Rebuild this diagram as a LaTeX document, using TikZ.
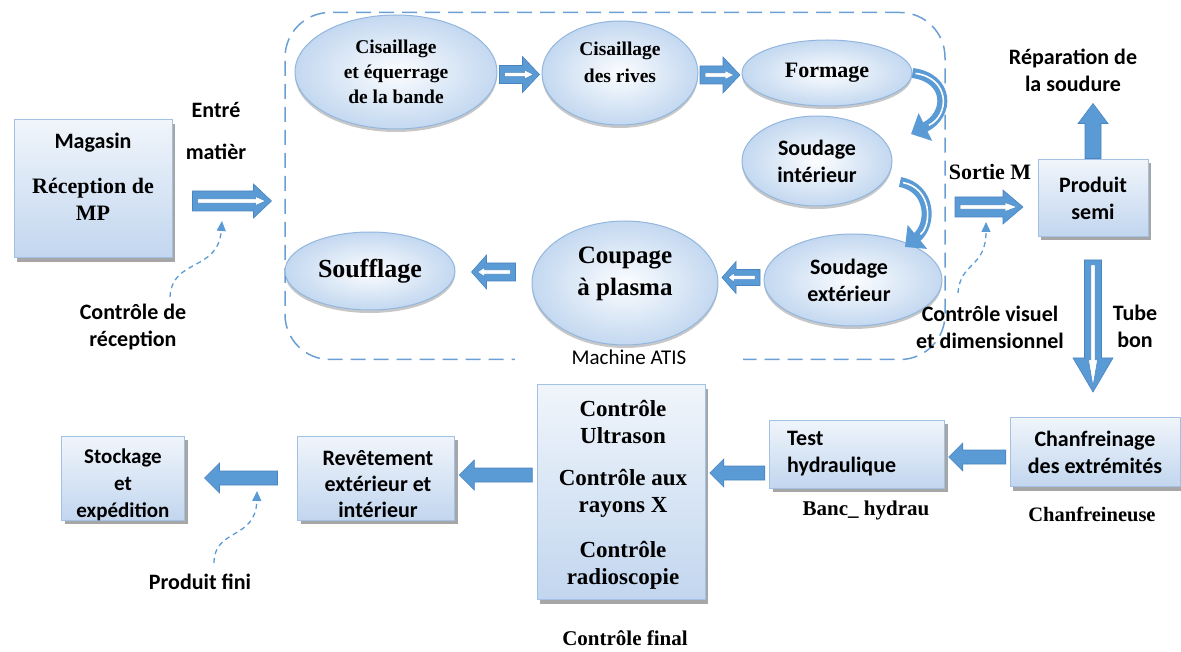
\documentclass[tikz,border=0pt]{standalone}
\usepackage{fontspec}
\setmainfont{Liberation Serif}
\newfontfamily\sansf{Carlito}
\usetikzlibrary{shapes.geometric,shadows,arrows.meta,calc}

\definecolor{arrowblue}{HTML}{5B9BD5}
\definecolor{arrowedge}{HTML}{4A84C0}
\definecolor{boxedge}{HTML}{A3C1E4}
\definecolor{boxtop}{HTML}{F0F5FB}
\definecolor{boxbot}{HTML}{C2D6EF}
\definecolor{elledge}{HTML}{93B6DF}
\definecolor{ellout}{HTML}{C3D8F0}
\definecolor{ellin}{HTML}{FCFDFF}
\definecolor{framecol}{HTML}{6A9FD6}

\tikzset{
  frame/.style={draw=framecol, line width=1.5pt, dash pattern=on 15pt off 8pt,
    rounded corners=45pt},
  box/.style={draw=boxedge, line width=1pt, top color=boxtop, bottom color=boxbot,
    drop shadow={shadow xshift=3pt, shadow yshift=-4pt, fill=black, opacity=0.35}},
  ell/.style={ellipse, draw=elledge, line width=1pt, inner color=ellin, outer color=ellout,
    inner sep=0pt, drop shadow={shadow xshift=0pt, shadow yshift=-3pt, fill=black, opacity=0.22}},
  sanst/.style={font=\sansf\bfseries\fontsize{22}{27}\selectfont, align=center, inner sep=0pt},
  serift/.style={font=\bfseries\fontsize{22}{27}\selectfont, align=center, inner sep=0pt},
  curvearrow/.style={draw=arrowblue, line width=10pt, -{Triangle[width=30pt,length=16pt]}},
  curveinner/.style={draw=white, line width=1.6pt, shorten >=20pt, shorten <=3pt},
  ctrl/.style={draw=arrowblue, line width=1.3pt, dash pattern=on 5pt off 4pt,
    -{Triangle[width=9pt,length=10pt]}},
  pics/hollowarrow/.style n args={4}{code={
    \filldraw[fill=arrowblue, draw=arrowedge, line width=0.6pt]
      ({-(#1)/2},{-(#2)}) -- ({(#1)/2-(#4)},{-(#2)}) -- ({(#1)/2-(#4)},{-(#3)}) --
      ({(#1)/2},0) -- ({(#1)/2-(#4)},{#3}) -- ({(#1)/2-(#4)},{#2}) -- ({-(#1)/2},{#2}) -- cycle;
    \filldraw[fill=white, draw=arrowedge, line width=0.5pt]
      ({-(#1)/2+5},-2.2) -- ({(#1)/2-(#4)+2},-2.2) -- ({(#1)/2-(#4)+2},-4.5) --
      ({(#1)/2-6},0) -- ({(#1)/2-(#4)+2},4.5) -- ({(#1)/2-(#4)+2},2.2) -- ({-(#1)/2+5},2.2) -- cycle;
  }},
  pics/solidarrow/.style n args={4}{code={
    \filldraw[fill=arrowblue, draw=arrowedge, line width=0.6pt]
      ({-(#1)/2},{-(#2)}) -- ({(#1)/2-(#4)},{-(#2)}) -- ({(#1)/2-(#4)},{-(#3)}) --
      ({(#1)/2},0) -- ({(#1)/2-(#4)},{#3}) -- ({(#1)/2-(#4)},{#2}) -- ({-(#1)/2},{#2}) -- cycle;
  }},
}

\begin{document}
\begin{tikzpicture}[x=1pt,y=-1pt]
\useasboundingbox (0,0) rectangle (1181,652);

% ---- ATIS machine frame ----
\node[frame, minimum width=660, minimum height=347] (atis) at (615,186) {};
\node[sanst, font=\sansf\fontsize{21}{24}\selectfont, fill=white,
      minimum width=228, minimum height=18] (atislbl) at (629,357) {Machine ATIS};

% ---- entry store ----
\node[box, minimum width=158, minimum height=138] (mag) at (93,189) {};
\node[sanst] (magt) at (93,143) {Magasin};
\node[serift] (magr) at (93,199) {Réception de\\MP};
\node[sanst] (entre) at (216,110) {Entré};
\node[sanst] (matier) at (216,152) {matièr};
\pic at (232,201) {hollowarrow={79}{10}{17}{18}};
\coordinate (inarrow) at (222,221);
\node[sanst] (lblrec) at (133,327) {Contrôle de\\réception};
\draw[ctrl] (170,297) .. controls (172,258) and (218,272) .. (inarrow);

% ---- process ellipses ----
\node[ell, minimum width=202, minimum height=114] (e1) at (396,72) {};
\node[ell, minimum width=156, minimum height=104] (e2) at (620,73) {};
\node[ell, minimum width=170, minimum height=66] (e3) at (827,73) {};
\node[ell, minimum width=150, minimum height=90] (e4) at (817,161) {};
\node[ell, minimum width=178, minimum height=92] (e5) at (853,280) {};
\node[ell, minimum width=186, minimum height=124] (e6) at (625,283) {};
\node[ell, minimum width=170, minimum height=78] (e7) at (370,271) {};

\node[serift, font=\bfseries\fontsize{19.5}{25}\selectfont] (t1) at (e1) {Cisaillage\\et équerrage\\de la bande};
\node[serift, font=\bfseries\fontsize{19.5}{27}\selectfont] (t2) at ($(e2)+(0,-11)$) {Cisaillage\\des rives};
\node[serift] (t3) at (e3) {Formage};
\node[sanst] (t4) at (e4) {Soudage\\intérieur};
\node[sanst] (t5) at ($(e5)+(-4,0)$) {Soudage\\extérieur};
\node[serift, font=\bfseries\fontsize{25}{32}\selectfont] (t6) at ($(e6)+(0,-9)$) {Coupage\\à plasma};
\node[serift, font=\bfseries\fontsize{26}{30}\selectfont] (t7) at (e7) {Soufflage};

\pic at ($(e1.east)!0.5!(e2.west)+(0,2)$) {hollowarrow={40}{9}{18}{17}};
\pic at ($(e2.east)!0.5!(e3.west)+(0,2)$) {hollowarrow={40}{9}{18}{17}};
\pic[rotate=180] at ($(e5.west)!0.5!(e6.east)+(0,-4)$) {hollowarrow={38}{8}{16}{14}};
\pic[rotate=180] at ($(e6.west)!0.5!(e7.east)+(0,-5)$) {hollowarrow={44}{9}{17}{15}};

\coordinate (c34) at (911,134);
\draw[curvearrow] (e3.east) .. controls (950,78) and (950,115) .. (c34);
\draw[curveinner] (e3.east) .. controls (950,78) and (950,115) .. (c34);
\coordinate (c45s) at (900,182);
\coordinate (c45) at (905,247);
\draw[curvearrow] (c45s) .. controls (932,188) and (932,225) .. (c45);
\draw[curveinner] (c45s) .. controls (932,188) and (932,225) .. (c45);

% ---- machine exit ----
\node[serift] (sortie) at (990,172) {Sortie M};
\pic at (989,207) {hollowarrow={68}{10}{17}{20}};
\coordinate (outarrow) at (986,222);
\node[sanst] (lblvis) at (990,327) {Contrôle visuel\\et dimensionnel};
\draw[ctrl] (958,293) .. controls (960,262) and (986,268) .. (outarrow);

\node[box, minimum width=110, minimum height=77] (semi) at (1093,198) {};
\node[sanst] (semit) at (semi) {Produit\\semi};
\pic[rotate=90] at ($(semi.north)+(0,-28)$) {solidarrow={55}{8}{15}{20}};
\node[sanst] (repar) at (1073,70) {Réparation de\\la soudure};
\pic[rotate=-90] at (1093,326) {hollowarrow={132}{8.5}{20}{34}};
\node[sanst] (tube) at (1135,326) {Tube\\bon};

% ---- finishing line ----
\node[box, minimum width=170, minimum height=69] (chanf) at (1095,452) {};
\node[sanst] (chanft) at (chanf) {Chanfreinage\\des extrémités};
\node[serift, font=\bfseries\fontsize{20.5}{24}\selectfont] (chanfm) at (1092,514) {Chanfreineuse};

\node[box, minimum width=175, minimum height=68] (test) at (857,454) {};
\node[sanst, align=left, anchor=west] (testt) at (787,454) {Test\\hydraulique};
\node[serift, font=\bfseries\fontsize{21}{24}\selectfont] (testm) at (866,510) {Banc\_ hydrau};

\node[box, minimum width=168, minimum height=215] (final) at (621,492) {};
\node[serift, font=\bfseries\fontsize{23}{27}\selectfont] (fin1) at (623,422) {Contrôle\\Ultrason};
\node[serift, font=\bfseries\fontsize{23}{27}\selectfont] (fin2) at (623,493) {Contrôle aux\\rayons X};
\node[serift, font=\bfseries\fontsize{23}{27}\selectfont] (fin3) at (623,565) {Contrôle\\radioscopie};
\node[serift, font=\bfseries\fontsize{21}{24}\selectfont] (finm) at (625,638) {Contrôle final};

\node[box, minimum width=157, minimum height=84] (revet) at (376,478) {};
\node[sanst, font=\sansf\bfseries\fontsize{22}{26}\selectfont] (revett) at (378,484) {Revêtement\\extérieur et\\intérieur};

\node[box, minimum width=123, minimum height=84] (stock) at (123,478) {};
\node[sanst, font=\sansf\bfseries\fontsize{21}{27}\selectfont] (stockt) at (123,485) {Stockage\\et\\expédition};

\pic[rotate=180] at ($(chanf.west)!0.5!(test.east)+(0,4)$) {solidarrow={57}{7}{14}{14}};
\pic[rotate=180] at ($(test.west)!0.5!(final.east)$) {solidarrow={55}{7}{14}{14}};
\pic[rotate=180] at ($(final.west)!0.5!(revet.east)+(0,-10)$) {solidarrow={73}{7}{15}{15}};
\pic[rotate=180] at ($(revet.west)!0.5!(stock.east)$) {solidarrow={73}{7}{15}{15}};

\coordinate (finarrow) at (257,491);
\node[sanst] (lblfini) at (200,582) {Produit fini};
\draw[ctrl] (214,563) .. controls (214,528) and (256,540) .. (finarrow);

\end{tikzpicture}
\end{document}
